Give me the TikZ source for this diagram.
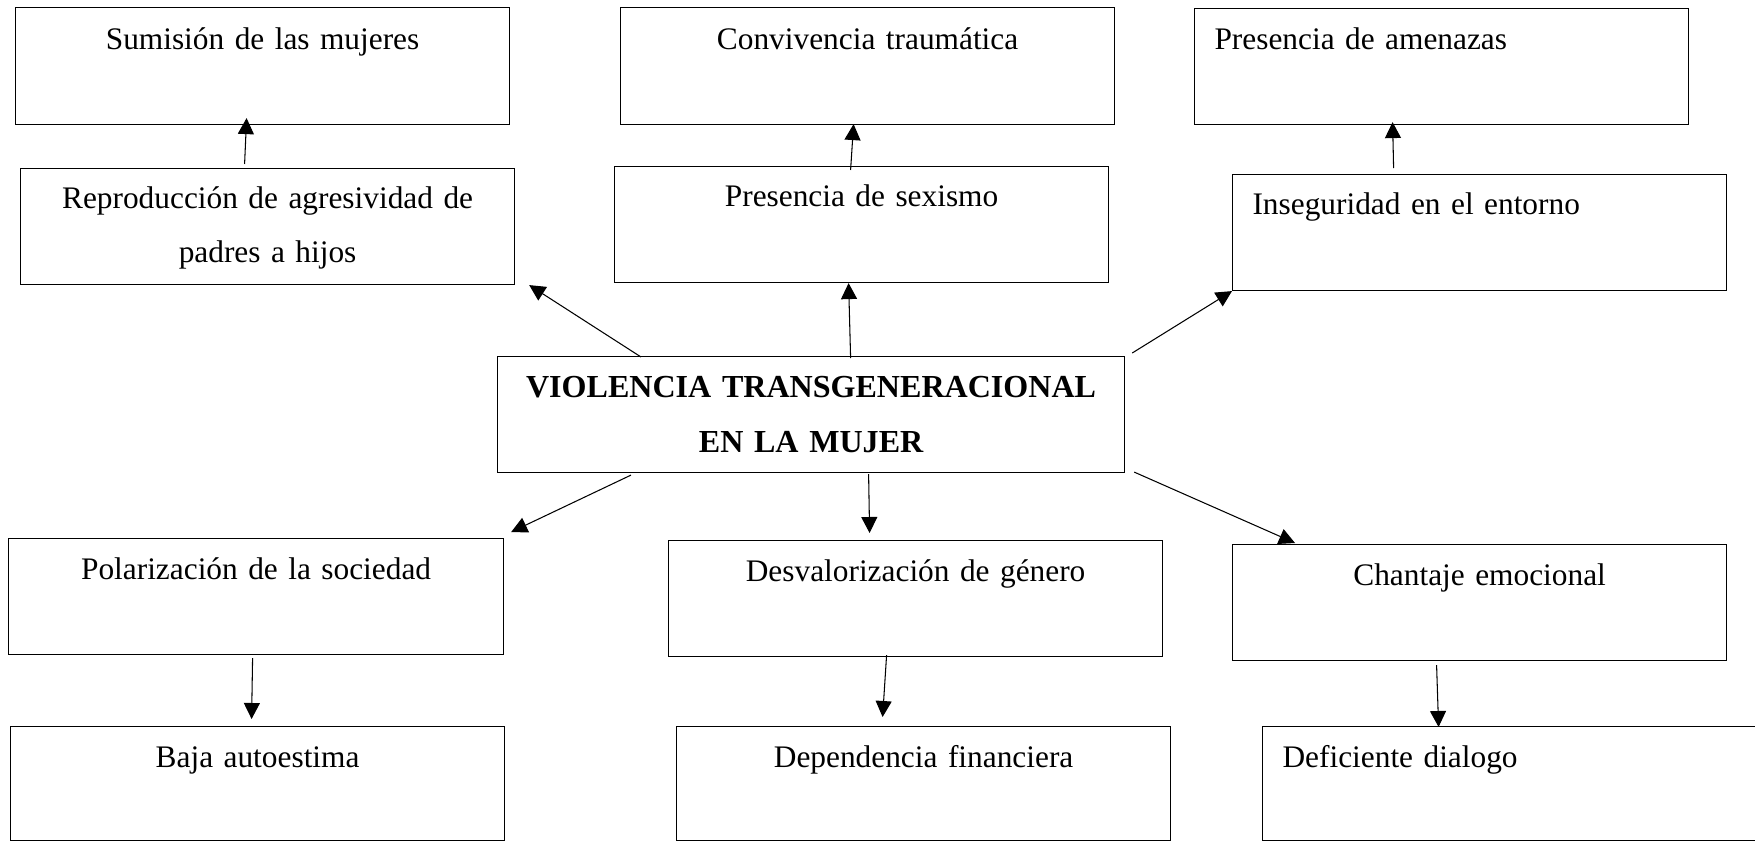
\documentclass[tikz,border=0pt]{standalone}
\usepackage{fontspec}
\setmainfont{Liberation Serif}
\usetikzlibrary{arrows.meta,calc}
\tikzset{
	caja/.style={draw, line width=0.75pt, anchor=north west, inner sep=0pt, align=center, text width=12.35cm, text height=1.025cm, text depth=1.875cm, font=\fontsize{22.3}{38.6}\selectfont},
	izq/.style={align=left, inner xsep=0.5cm, text width=11.35cm},
	flecha/.style={-{Triangle[length=0.4cm,width=0.4cm]}, line width=0.75pt}
}

\begin{document}
\begin{tikzpicture}[x=0.025cm,y=-0.025cm]
	\useasboundingbox (0,0) rectangle (1755,842);
	\node[caja, text height=1.05cm] (sumision) at (15,7) {Sumisión de las mujeres};
	\node[caja, text height=1.05cm] (convivencia) at (620,7) {Convivencia traumática};
	\node[caja, izq] (amenazas) at (1194,8) {Presencia de amenazas};
	\node[caja, text height=1cm, text depth=1.9cm] (reproduccion) at (20,168) {Reproducción de agresividad de\\padres a hijos};
	\node[caja, text height=1cm, text depth=1.9cm] (sexismo) at (614,166) {Presencia de sexismo};
	\node[caja, izq, text height=1cm, text depth=1.9cm] (inseguridad) at (1232,174) {Inseguridad en el entorno};
	\node[caja, text width=15.675cm, font=\fontsize{22.8}{39.1}\selectfont\bfseries] (central) at (497,356) {VIOLENCIA TRANSGENERACIONAL\\EN LA MUJER};
	\node[caja, text width=12.375cm] (polarizacion) at (8,538) {Polarización de la sociedad};
	\node[caja, text depth=1.825cm] (baja) at (10,726) {Baja autoestima};
	\node[caja] (desvalorizacion) at (668,540) {Desvalorización de género};
	\node[caja, text depth=1.825cm] (dependencia) at (676,726) {Dependencia financiera};
	\node[caja] (chantaje) at (1232,544) {Chantaje emocional};
	\node[caja, izq, text width=11.45cm, text depth=1.825cm] (deficiente) at (1262,726) {Deficiente dialogo};

	\draw[flecha] ($(reproduccion.north)+(-23,-4)$) -- ($(sumision.south)+(-16,-7)$);
	\draw[flecha] ($(sexismo.north)+(-11,4)$) -- ($(convivencia.south)+(-14,-1)$);
	\draw[flecha] ($(inseguridad.north)+(-86,-6)$) -- ($(amenazas.south)+(-49,-3)$);
	\draw[flecha] ($(central.north west)+(144,1)$) -- ($(reproduccion.south east)+(14,0)$);
	\draw[flecha] ($(central.north)+(39.5,2)$) -- ($(sexismo.south)+(-13,0)$);
	\draw[flecha] ($(central.north east)+(7,-3)$) -- (inseguridad.south west);
	\draw[flecha] ($(central.south west)+(134,2)$) -- ($(polarizacion.north east)+(7,-6)$);
	\draw[flecha] ($(central.south)+(57.5,1)$) -- ($(desvalorizacion.north)+(-46,-7)$);
	\draw[flecha] ($(central.south east)+(9,-1)$) -- ($(chantaje.north west)+(63,-1)$);
	\draw[flecha] ($(polarizacion.south)+(-3.5,3)$) -- ($(baja.north)+(-6,-7)$);
	\draw[flecha] ($(desvalorizacion.south)+(-29,-2)$) -- ($(dependencia.north)+(-41,-9)$);
	\draw[flecha] ($(chantaje.south)+(-43,4)$) -- ($(deficiente.north)+(-73,1)$);
\end{tikzpicture}
\end{document}
